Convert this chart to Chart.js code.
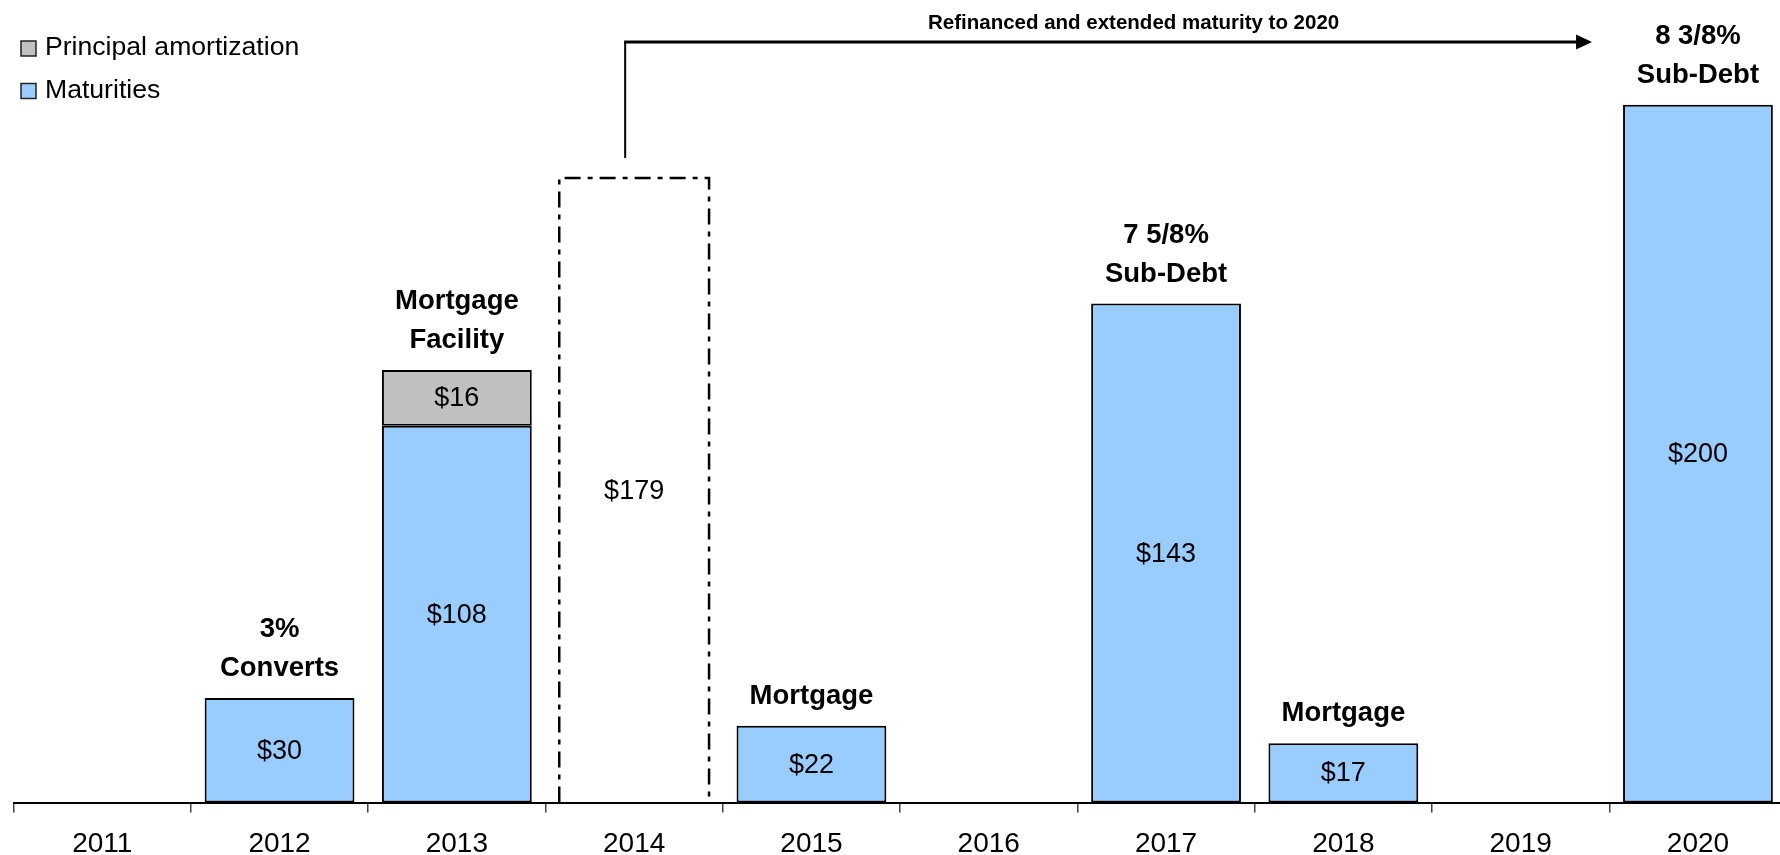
<!DOCTYPE html>
<html>
<head>
<meta charset="utf-8">
<script src="https://cdn.jsdelivr.net/npm/chart.js@4/dist/chart.umd.min.js"></script>
<style>
  html, body { margin: 0; padding: 0; background: #fff; overflow: hidden; }
  #wrap { position: relative; width: 1800px; height: 855px; }
</style>
</head>
<body>
<div id="wrap"><canvas id="c" width="1800" height="855"></canvas></div>
<script>
// ---- data ----
const years = ['2011', '2012', '2013', '2014', '2015', '2016', '2017', '2018', '2019', '2020'];
const maturities = [null, 30, 108, null, 22, null, 143, 17, null, 200];
const amortization = [null, null, 16, null, null, null, null, null, null, null];
const refinanced = [null, null, null, 179, null, null, null, null, null, null];
const notes = [[], ['3%', 'Converts'], ['Mortgage', 'Facility'], [], ['Mortgage'], [], ['7 5/8%', 'Sub-Debt'], ['Mortgage'], [], ['8 3/8%', 'Sub-Debt']];
const legendItems = ['Principal amortization', 'Maturities'];
const arrowText = 'Refinanced and extended maturity to 2020';

const FONT = '"Liberation Sans", Arial, Helvetica, sans-serif';
const BLUE = '#99CCFF', GREY = '#C0C0C0';

const annotate = {
  id: 'annotate',
  afterDatasetsDraw(chart) {
    const ctx = chart.ctx;
    const metas = chart.data.datasets.map((d, i) => chart.getDatasetMeta(i));
    ctx.save();

    // dash-dot outline of refinanced bar
    const refMeta = metas[2];
    refMeta.data.forEach((el, i) => {
      if (refinanced[i] == null) return;
      const p = el.getProps(['x', 'y', 'base', 'width'], true);
      ctx.save();
      ctx.strokeStyle = '#000';
      ctx.lineWidth = 2.5;
      ctx.setLineDash([16, 7, 5, 7]);
      ctx.beginPath();
      ctx.moveTo(p.x - p.width / 2, p.base);
      ctx.lineTo(p.x - p.width / 2, p.y);
      ctx.lineTo(p.x + p.width / 2, p.y);
      ctx.lineTo(p.x + p.width / 2, p.base);
      ctx.stroke();
      ctx.restore();
    });

    // value labels in bars
    ctx.fillStyle = '#000';
    ctx.font = '27px ' + FONT;
    ctx.textAlign = 'center';
    ctx.textBaseline = 'middle';
    const vals = [maturities, amortization, refinanced];
    metas.forEach((m, di) => {
      m.data.forEach((el, i) => {
        const v = vals[di][i];
        if (v == null) return;
        const p = el.getProps(['x', 'y', 'base'], true);
        ctx.fillText('$' + v, p.x, (p.y + p.base) / 2 + 1);
      });
    });

    // bold notes above stacks
    ctx.font = 'bold 27.5px ' + FONT;
    ctx.textBaseline = 'alphabetic';
    years.forEach((y, i) => {
      const lines = notes[i];
      if (!lines.length) return;
      let top = Infinity, x = 0;
      metas.forEach((m, di) => {
        if (vals[di][i] == null) return;
        const p = m.data[i].getProps(['x', 'y'], true);
        top = Math.min(top, p.y); x = p.x;
      });
      lines.forEach((t, k) => {
        const yy = top - 22 - (lines.length - 1 - k) * 39;
        ctx.fillText(t, x, yy);
      });
    });

    // arrow from refinanced bar to 2020
    const fromIdx = refinanced.findIndex(v => v != null);
    const toIdx = years.indexOf('2020');
    const fp = metas[2].data[fromIdx].getProps(['x', 'y', 'width'], true);
    const tp = metas[0].data[toIdx].getProps(['x', 'y', 'width'], true);
    const x0 = fp.x - 0.06 * fp.width;
    const yTop = chart.chartArea.top + 42;
    const tipX = tp.x - tp.width / 2 - 31;
    ctx.strokeStyle = '#000';
    ctx.lineWidth = 2;
    ctx.beginPath();
    ctx.moveTo(x0, fp.y - 20);
    ctx.lineTo(x0, yTop);
    ctx.stroke();
    ctx.lineWidth = 3;
    ctx.beginPath();
    ctx.moveTo(x0 - 1, yTop);
    ctx.lineTo(tipX - 14, yTop);
    ctx.stroke();
    ctx.fillStyle = '#000';
    ctx.beginPath();
    ctx.moveTo(tipX, yTop);
    ctx.lineTo(tipX - 16, yTop - 7.5);
    ctx.lineTo(tipX - 16, yTop + 7.5);
    ctx.closePath();
    ctx.fill();
    ctx.font = 'bold 20.5px ' + FONT;
    ctx.textAlign = 'center';
    ctx.textBaseline = 'alphabetic';
    ctx.fillText(arrowText, (x0 + tipX) / 2 + 25, yTop - 13);

    // legend
    const colors = [GREY, BLUE];
    ctx.font = '26.6px ' + FONT;
    ctx.textAlign = 'left';
    legendItems.forEach((t, k) => {
      const by = 41 + k * 42.5;
      ctx.fillStyle = colors[k];
      ctx.fillRect(21, by, 15, 15);
      ctx.strokeStyle = '#222';
      ctx.lineWidth = 1.5;
      ctx.strokeRect(21, by, 15, 15);
      ctx.fillStyle = '#000';
      ctx.fillText(t, 45, by + 14);
    });
    ctx.restore();
  }
};

new Chart(document.getElementById('c'), {
  type: 'bar',
  data: {
    labels: years,
    datasets: [
      { label: 'Maturities', data: maturities, backgroundColor: BLUE, borderColor: '#000', borderWidth: 2, borderSkipped: false },
      { label: 'Principal amortization', data: amortization, backgroundColor: GREY, borderColor: '#000', borderWidth: 2, borderSkipped: false },
      { label: 'Refinanced', data: refinanced, backgroundColor: 'rgba(255,255,255,0)', borderWidth: 0 }
    ]
  },
  plugins: [annotate],
  options: {
    responsive: false,
    animation: false,
    events: [],
    layout: { padding: { left: 13.6, right: 13.4, top: 0, bottom: 0 } },
    categoryPercentage: 1,
    barPercentage: 0.845,
    plugins: { legend: { display: false }, tooltip: { enabled: false }, title: { display: false } },
    scales: {
      x: {
        stacked: true,
        grid: { display: true, offset: true, drawOnChartArea: false, drawTicks: true, tickLength: 10, color: '#444', lineWidth: 1.5 },
        border: { display: true, color: '#000', width: 2 },
        ticks: { color: '#000', font: { family: FONT, size: 28 }, padding: 15, maxRotation: 0, autoSkip: false },
        afterFit(scale) { scale.height = 52.4; }
      },
      y: {
        stacked: true,
        display: false,
        min: 0,
        max: 230
      }
    }
  }
});
</script>
</body>
</html>
